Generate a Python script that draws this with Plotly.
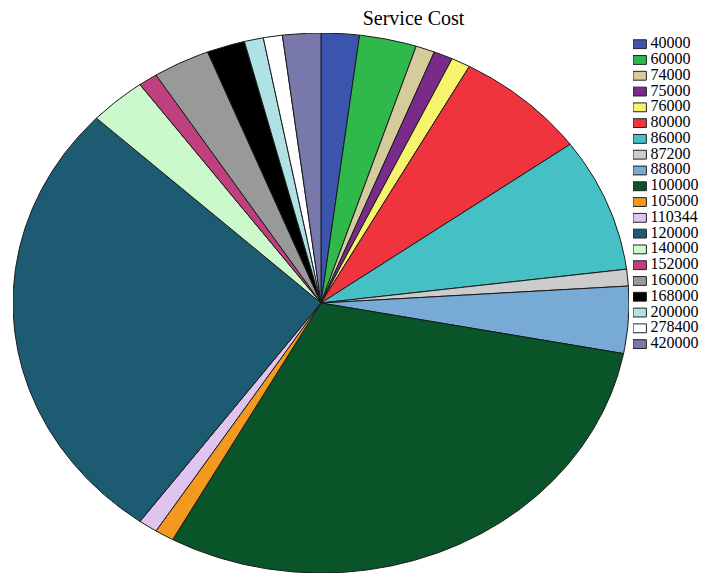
import numpy as np
import plotly.graph_objects as go

# Service cost categories and number of cases in each
costs = ["40000", "60000", "74000", "75000", "76000", "80000", "86000", "87200",
         "88000", "100000", "105000", "110344", "120000", "140000", "152000",
         "160000", "168000", "200000", "278400", "420000"]
counts = [2, 3, 1, 1, 1, 7, 8, 1, 4, 30, 1, 1, 27, 3, 1, 3, 2, 1, 1, 2]
colors = ["#3B55AF", "#2FB94A", "#D4CC9C", "#7A2B8A", "#F7F36B", "#F0343D",
          "#45C1C6", "#CCCCCC", "#78AAD6", "#0A5429", "#F4991F", "#DFC4F0",
          "#1C5B71", "#CCF9CB", "#BF3F7F", "#999999", "#000000", "#AEE2E4",
          "#FFFFFF", "#7878AB"]

W, H = 702, 574
SERIF = "Liberation Serif, Times New Roman, serif"

fig = go.Figure()

# Pie slices: clockwise from 12 o'clock on a unit circle; the axis
# proportions stretch the circle into the wide ellipse.
total = float(sum(counts))
edges = np.concatenate([[0.0], np.cumsum(counts)]) / total * 2 * np.pi
for i, (cost, n, col) in enumerate(zip(costs, counts, colors)):
    a0, a1 = edges[i], edges[i + 1]
    npts = max(int(np.degrees(a1 - a0) * 3), 8)
    th = np.linspace(a0, a1, npts)
    xs = np.concatenate([[0.0], np.sin(th), [0.0]])
    ys = np.concatenate([[0.0], np.cos(th), [0.0]])
    fig.add_trace(go.Scatter(
        x=xs, y=ys, mode="lines", fill="toself", fillcolor=col,
        line=dict(color="#1a1a1a", width=1), hoveron="fills",
        hoverinfo="text", text=f"{cost}: {n}", showlegend=False,
        xaxis="x", yaxis="y"))

# Legend column: swatches as short bars, labels as text beside them
rows = list(range(len(costs)))
fig.add_trace(go.Bar(
    y=rows, x=[1] * len(costs), base=0, orientation="h", width=0.56,
    marker=dict(color=colors, line=dict(color="#222222", width=1)),
    hoverinfo="skip", showlegend=False, xaxis="x2", yaxis="y2"))
fig.add_trace(go.Scatter(
    y=rows, x=[1.3] * len(costs), mode="text", text=costs,
    textposition="middle right",
    textfont=dict(family=SERIF, size=16, color="#000000"),
    hoverinfo="skip", showlegend=False, xaxis="x2", yaxis="y2"))

hidden = dict(visible=False, showgrid=False, zeroline=False, fixedrange=True)
fig.update_layout(
    width=W, height=H, autosize=False,
    margin=dict(l=0, r=0, t=0, b=0),
    paper_bgcolor="white", plot_bgcolor="rgba(0,0,0,0)",
    title=dict(text="Service Cost", x=413.5 / W, xanchor="center",
               y=1 - 18 / H, yanchor="middle",
               font=dict(family=SERIF, size=20, color="#000000")),
    xaxis=dict(domain=[13 / W, 629 / W], range=[-1, 1], **hidden),
    yaxis=dict(domain=[1 / H, 1 - 33 / H], range=[-1, 1], **hidden),
    xaxis2=dict(domain=[633 / W, 1], range=[0, 69 / 13.4], anchor="y2", **hidden),
    yaxis2=dict(domain=[1 - 352 / H, 1 - 36.3 / H], range=[19.5, -0.5],
                anchor="x2", **hidden),
    showlegend=False,
)

fig.write_html("out.html")
